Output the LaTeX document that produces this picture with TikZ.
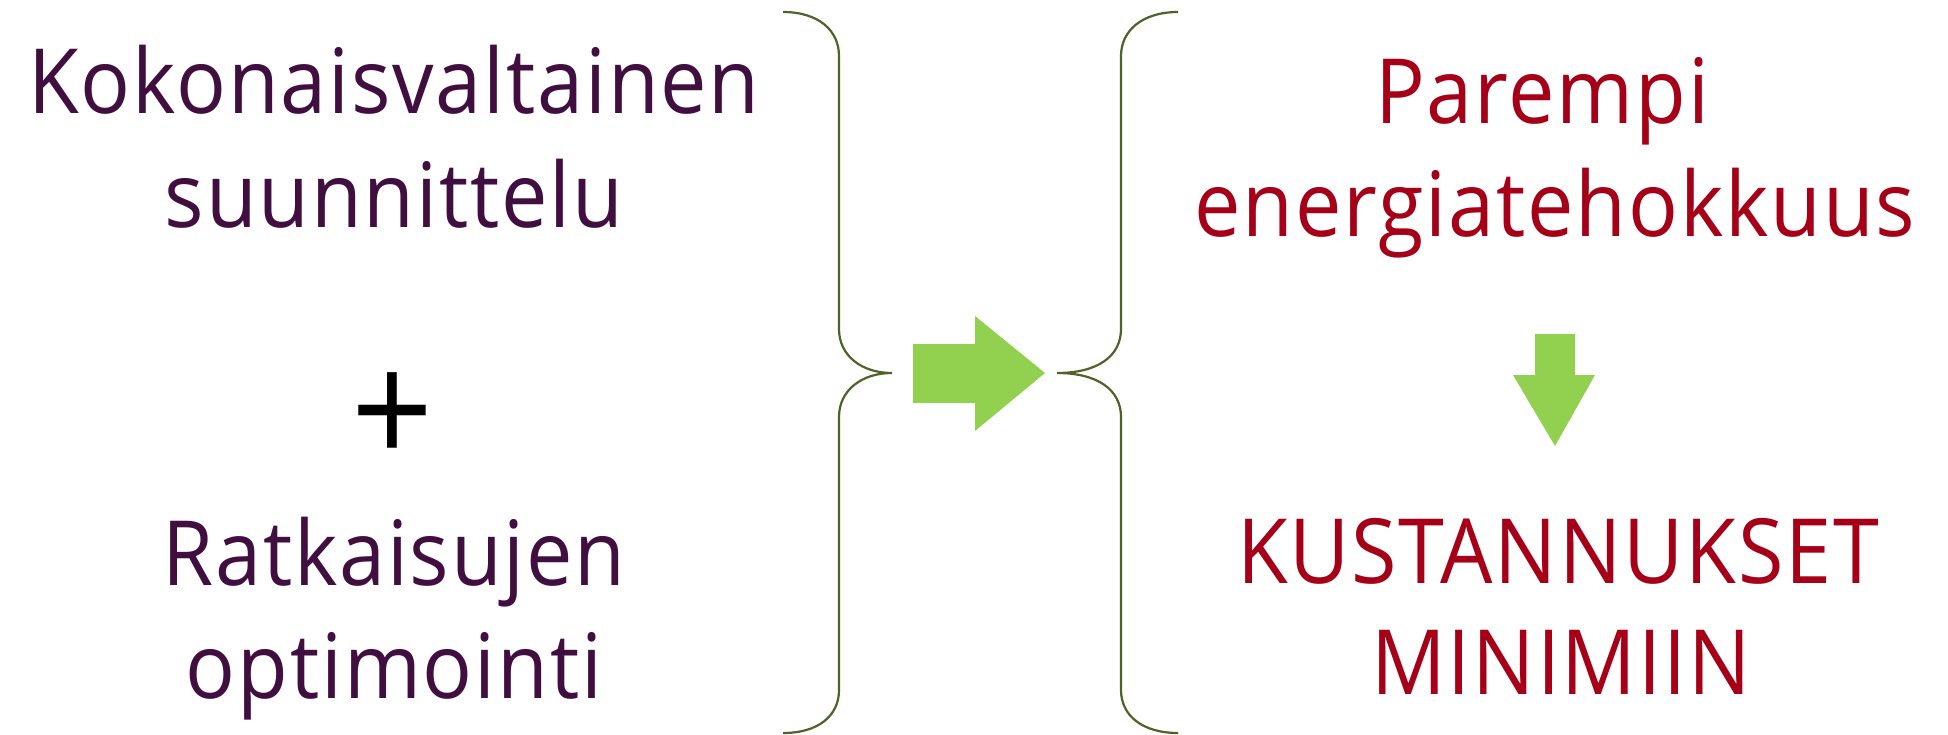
\documentclass[tikz,border=0pt]{standalone}
\usepackage{fontspec}
\setmainfont{Open Sans}[FakeStretch=0.92, LetterSpace=2]
\definecolor{plumtext}{RGB}{65,14,64}
\definecolor{redtext}{RGB}{166,0,24}
\definecolor{arrowgreen}{RGB}{146,208,80}
\definecolor{braceolive}{RGB}{79,98,40}

\begin{document}
\begin{tikzpicture}[x=0.5pt, y=-0.5pt,
    lefttext/.style={anchor=base, text=plumtext, inner sep=0pt, font=\fontsize{45}{54}\selectfont},
    righttext/.style={anchor=base, text=redtext, inner sep=0pt, font=\fontsize{45}{54}\selectfont},
    bracepath/.style={draw=braceolive, line width=1.1pt},
    greenarrow/.style={fill=arrowgreen, draw=none}]
        \useasboundingbox (0,0) rectangle (1948,734);

        % left column
        \node [lefttext] (L1) at (394, 113) {Kokonaisvaltainen};
        \node [lefttext] (L2) at (394, 227) {suunnittelu};
        \node [anchor=center, inner sep=0pt, font=\fontsize{78}{78}\selectfont] (Plus) at (393, 419) {+};
        \node [lefttext] (L3) at (394, 585) {Ratkaisujen};
        \node [lefttext] (L4) at (394, 698) {optimointi};

        % braces
        \draw [bracepath] (783, 12) .. controls (818, 12) and (839, 30) .. (839, 56)
            -- (839, 329) .. controls (839, 356) and (862, 373) .. (892, 373)
            .. controls (862, 373) and (839, 390) .. (839, 417)
            -- (839, 690) .. controls (839, 716) and (818, 733) .. (783, 733);
        \draw [bracepath] (1178, 12) .. controls (1143, 12) and (1121, 30) .. (1121, 56)
            -- (1121, 329) .. controls (1121, 356) and (1098, 373) .. (1057, 373)
            .. controls (1098, 373) and (1121, 390) .. (1121, 417)
            -- (1121, 690) .. controls (1121, 716) and (1143, 733) .. (1178, 733);

        % arrows
        \fill [greenarrow] (913, 344) -- (975, 344) -- (975, 316) -- (1045, 373)
            -- (975, 431) -- (975, 403) -- (913, 403) -- cycle;
        \fill [greenarrow] (1535, 334) -- (1575, 334) -- (1575, 375) -- (1595, 375)
            -- (1555, 446) -- (1513, 375) -- (1535, 375) -- cycle;

        % right column
        \node [righttext] (R1) at (1542, 123) {Parempi};
        \node [righttext] (R2) at (1555, 236) {energiatehokkuus};
        \node [righttext] (R3) at (1558, 583) {KUSTANNUKSET};
        \node [righttext] (R4) at (1561, 694) {MINIMIIN};
\end{tikzpicture}
\end{document}
